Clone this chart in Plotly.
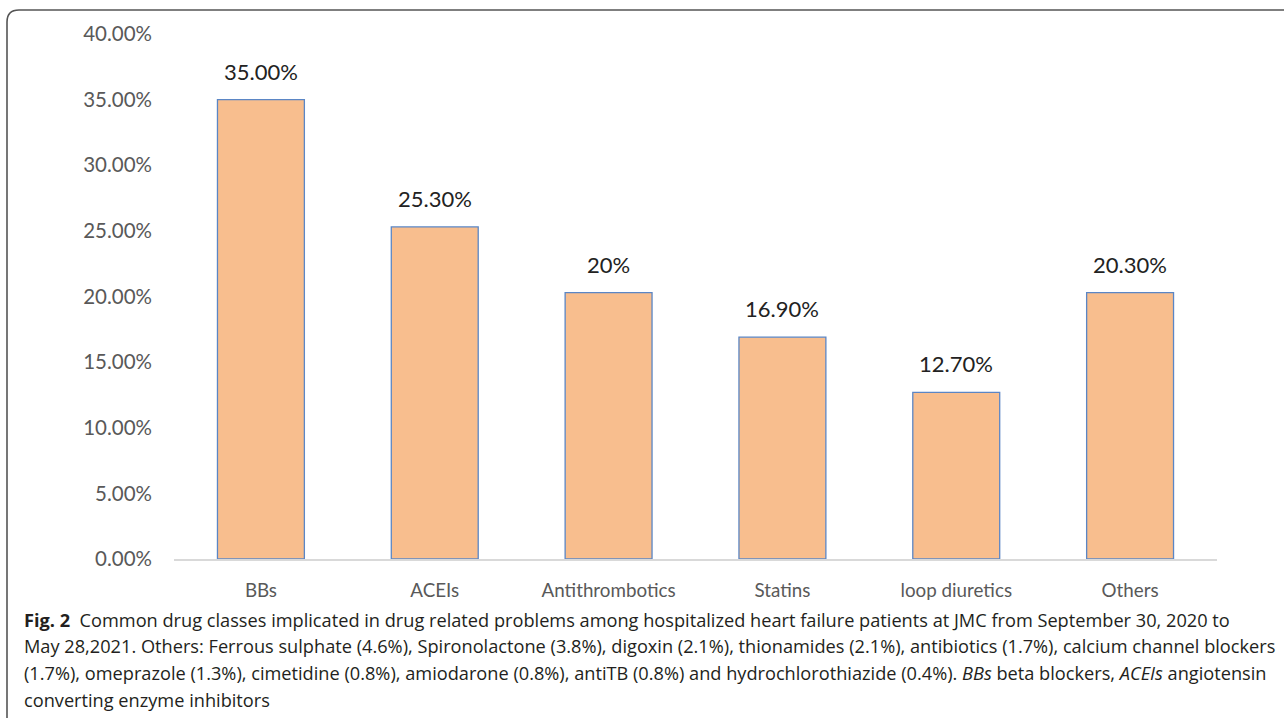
import plotly.graph_objects as go

categories = ["BBs", "ACEIs", "Antithrombotics", "Statins", "loop diuretics", "Others"]
values = [35.0, 25.3, 20.3, 16.9, 12.7, 20.3]
value_labels = ["35.00%", "25.30%", "20%", "16.90%", "12.70%", "20.30%"]
y_ticks = [0, 5, 10, 15, 20, 25, 30, 35, 40]
y_tick_text = [f"{v:.2f}%" for v in y_ticks]

caption_lines = [
    "<b>Fig. 2</b>  Common drug classes implicated in drug related problems among hospitalized heart failure patients at JMC from September 30, 2020 to",
    "May 28,2021. Others: Ferrous sulphate (4.6%), Spironolactone (3.8%), digoxin (2.1%), thionamides (2.1%), antibiotics (1.7%), calcium channel blockers",
    "(1.7%), omeprazole (1.3%), cimetidine (0.8%), amiodarone (0.8%), antiTB (0.8%) and hydrochlorothiazide (0.4%). <i>BBs</i> beta blockers, <i>ACEIs</i> angiotensin",
    "converting enzyme inhibitors",
]

W, H = 1284, 718
L, R, T, B = 174, 1217, 34, 559  # plot area in px

fig = go.Figure()
fig.add_trace(go.Bar(
    x=categories, y=values,
    marker=dict(color="#F8BE8E", line=dict(color="#5B86C5", width=1.3)),
    width=0.5, hoverinfo="skip",
))

for c, v, t in zip(categories, values, value_labels):
    fig.add_annotation(x=c, y=v, text=t, showarrow=False, yanchor="bottom", yshift=13,
                       font=dict(family="Lato, Carlito, sans-serif", size=22, color="#222222"))

def px(x):
    return (x - L) / (R - L)

def py(y):
    return (B - y) / (B - T)

# caption
cap_y = [620, 646, 673, 700]
for line, yy in zip(caption_lines, cap_y):
    fig.add_annotation(xref="paper", yref="paper", x=px(22), y=py(yy), text=line,
                       showarrow=False, xanchor="left", yanchor="middle", align="left",
                       font=dict(family="Open Sans, sans-serif", size=18.2, color="#231F20"))

# frame: top edge with rounded top-left corner, then left edge down to the bottom
r = 12
x0, y0, x1, y1 = 7, 10, 1284, 722
path = (f"M {px(x1)},{py(y0)} L {px(x0 + r)},{py(y0)} "
        f"Q {px(x0)},{py(y0)} {px(x0)},{py(y0 + r)} "
        f"L {px(x0)},{py(y1)}")
fig.add_shape(type="path", path=path, xref="paper", yref="paper",
              line=dict(color="#555555", width=1.6))

fig.update_layout(
    width=W, height=H,
    margin=dict(l=L, r=W - R, t=T, b=H - B, pad=0),
    plot_bgcolor="white", paper_bgcolor="white",
    showlegend=False,
    bargap=0.5,
    xaxis=dict(showgrid=False, showline=True, linecolor="#D9D9D9", linewidth=1.5,
               ticks="", ticklabelstandoff=14,
               tickfont=dict(family="Lato, Carlito, sans-serif", size=18.8, color="#595959")),
    yaxis=dict(range=[0, 40], tickvals=y_ticks, ticktext=y_tick_text,
               showgrid=False, showline=False, zeroline=False, ticks="",
               ticklabelstandoff=21,
               tickfont=dict(family="Lato, Carlito, sans-serif", size=20.5, color="#595959")),
)

fig.write_html("out.html")
